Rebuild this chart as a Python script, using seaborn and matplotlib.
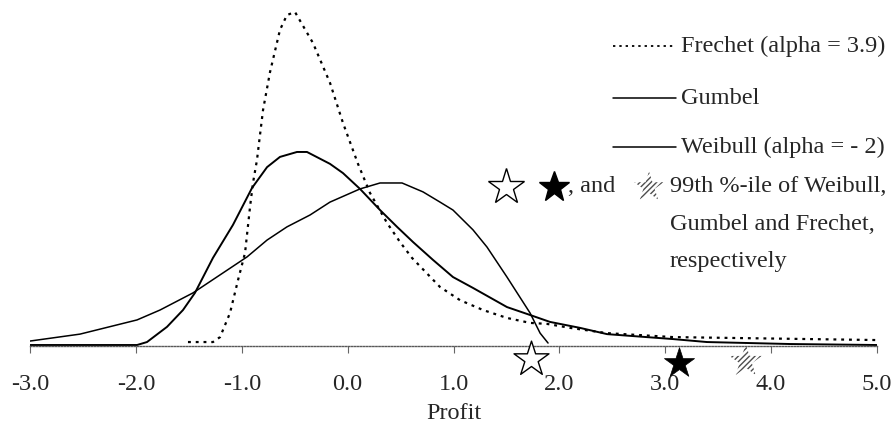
import matplotlib
matplotlib.use("Agg")
import matplotlib.pyplot as plt
import seaborn as sns
import pandas as pd
from matplotlib.lines import Line2D

# ---- data ----
frechet_x = [-1.508, -1.272, -1.205, -1.111, -1.035, -0.969, -0.922, -0.894, -0.856, -0.837,
             -0.799, -0.733, -0.639, -0.573, -0.497, -0.327, -0.166, -0.044, 0.098, 0.211,
             0.372, 0.495, 0.608, 0.872, 1.061, 1.279, 1.505, 1.723, 1.883, 2.100, 2.450,
             3.073, 5.0]
frechet_y = [0.012, 0.012, 0.027, 0.100, 0.200, 0.282, 0.421, 0.494, 0.564, 0.615,
             0.715, 0.830, 0.958, 1.003, 1.012, 0.918, 0.797, 0.676, 0.552, 0.464,
             0.373, 0.315, 0.267, 0.179, 0.139, 0.109, 0.085, 0.070, 0.067, 0.055, 0.039,
             0.027, 0.018]

gumbel_x = [-3.0, -1.989, -1.895, -1.706, -1.555, -1.442, -1.272, -1.083, -0.903, -0.761,
            -0.639, -0.478, -0.384, -0.167, -0.044, 0.117, 0.306, 0.467, 0.618, 0.806,
            0.995, 1.184, 1.505, 1.723, 1.911, 2.194, 2.450, 3.073, 3.394, 4.178, 5.0]
gumbel_y = [0.003, 0.003, 0.012, 0.058, 0.109, 0.161, 0.267, 0.367, 0.479, 0.542,
            0.573, 0.588, 0.588, 0.552, 0.524, 0.476, 0.412, 0.361, 0.315, 0.261,
            0.209, 0.176, 0.118, 0.094, 0.073, 0.055, 0.036, 0.021, 0.012, 0.006, 0.003]

weibull_x = [-3.0, -2.528, -1.989, -1.772, -1.460, -0.950, -0.761, -0.573, -0.355, -0.167,
             0.117, 0.306, 0.514, 0.712, 0.873, 0.995, 1.184, 1.316, 1.505, 1.723,
             1.818, 1.893]
weibull_y = [0.015, 0.036, 0.079, 0.109, 0.161, 0.270, 0.321, 0.361, 0.397, 0.436,
             0.476, 0.494, 0.494, 0.467, 0.436, 0.412, 0.352, 0.300, 0.209, 0.100,
             0.039, 0.009]

# 99th percentiles: Weibull, Gumbel, Frechet
pct99_names = ["Weibull", "Gumbel", "Frechet"]
pct99_values = [1.73, 3.13, 3.76]

x_ticks = [-3, -2, -1, 0, 1, 2, 3, 4, 5]
x_tick_labels = ["-3.0", "-2.0", "-1.0", "0.0", "1.0", "2.0", "3.0", "4.0", "5.0"]

legend_labels = ["Frechet (alpha = 3.9)", "Gumbel", "Weibull (alpha = - 2)"]
note_lines = ["99th %-ile of Weibull,", "Gumbel and Frechet,", "respectively"]

# ---- style ----
sns.set_theme(style="white")
plt.rcParams["font.family"] = ["Liberation Serif", "DejaVu Serif"]
plt.rcParams["hatch.linewidth"] = 1.0
FS = 17.5
HATCH_COLOR = "0.3"

W, H = 892, 429
fig = plt.figure(figsize=(W / 100, H / 100), dpi=100)
ax = fig.add_axes([30 / W, 1 - 346 / H, 847 / W, 341 / H])

df_f = pd.DataFrame({"x": frechet_x, "y": frechet_y})
df_g = pd.DataFrame({"x": gumbel_x, "y": gumbel_y})
df_w = pd.DataFrame({"x": weibull_x, "y": weibull_y})

sns.lineplot(data=df_f, x="x", y="y", ax=ax, color="black", lw=1.6,
             linestyle=(0, (1.3, 2.2)), estimator=None, sort=False)
sns.lineplot(data=df_g, x="x", y="y", ax=ax, color="black", lw=1.4,
             estimator=None, sort=False)
sns.lineplot(data=df_w, x="x", y="y", ax=ax, color="black", lw=1.1,
             estimator=None, sort=False)

ax.set_xlim(-3, 5)
ax.set_ylim(0, 341 / 330)

# stars below the axis
star_y = -0.04
star_df = pd.DataFrame({"x": pct99_values, "y": [star_y] * 3, "name": pct99_names})
ax.scatter(star_df["x"][0:1], star_df["y"][0:1], marker="*", s=700, facecolor="white",
           edgecolor="black", linewidth=1.0, clip_on=False, zorder=5)
ax.scatter(star_df["x"][1:2], star_df["y"][1:2] - 0.012, marker="*", s=520, facecolor="black",
           edgecolor="black", linewidth=0.5, clip_on=False, zorder=5)
ax.scatter(star_df["x"][2:3], star_df["y"][2:3] - 0.006, marker="*", s=600, facecolor="none",
           edgecolor=HATCH_COLOR, hatch="//////", linewidth=0, clip_on=False, zorder=5)

# axis styling
for s in ["top", "right", "left"]:
    ax.spines[s].set_visible(False)
ax.spines["bottom"].set_linestyle((0, (1, 1.2)))
ax.spines["bottom"].set_color("0.35")
ax.spines["bottom"].set_linewidth(1.0)
ax.set_yticks([])
ax.set_xticks(x_ticks)
ax.set_xticklabels(x_tick_labels, fontsize=FS)
ax.tick_params(axis="x", direction="out", length=5, width=0.8, color="0.4",
               pad=15, bottom=True)
ax.set_xlabel("Profit", fontsize=FS, labelpad=6)
ax.set_ylabel("")


def fx(px):
    return px / W


def fy(py):
    return 1 - py / H


# legend lines and labels
legend_rows = [46, 98, 147]
styles = [dict(linestyle=(0, (1.3, 2.2)), lw=1.3), dict(linestyle="-", lw=1.1),
          dict(linestyle="-", lw=1.1)]
for lab, py, st in zip(legend_labels, legend_rows, styles):
    fig.add_artist(Line2D([fx(613), fx(676)], [fy(py), fy(py)], color="black", **st))
    fig.text(fx(681), fy(py), lab, fontsize=FS, va="center", ha="left")

# star row
row_y = 187
fig.add_artist(Line2D([fx(506)], [fy(row_y)], marker="*", markersize=27,
                      markerfacecolor="white", markeredgecolor="black", markeredgewidth=1.0,
                      linestyle="none"))
fig.add_artist(Line2D([fx(554)], [fy(row_y)], marker="*", markersize=23,
                      markerfacecolor="black", markeredgecolor="black", linestyle="none"))
fig.text(fx(568), fy(row_y), ", and", fontsize=FS, va="center", ha="left")
hs = fig.add_axes([fx(633), fy(row_y + 16), 32 / W, 32 / H])
hs.set_axis_off()
hs.scatter([0], [0], marker="*", s=500, facecolor="none", edgecolor=HATCH_COLOR,
           hatch="//////", linewidth=0)
hs.set_xlim(-1, 1)
hs.set_ylim(-1, 1)

for line, py in zip(note_lines, [row_y, 224, 261]):
    fig.text(fx(670), fy(py), line, fontsize=FS, va="center", ha="left")

fig.savefig("out.png", dpi=100)
